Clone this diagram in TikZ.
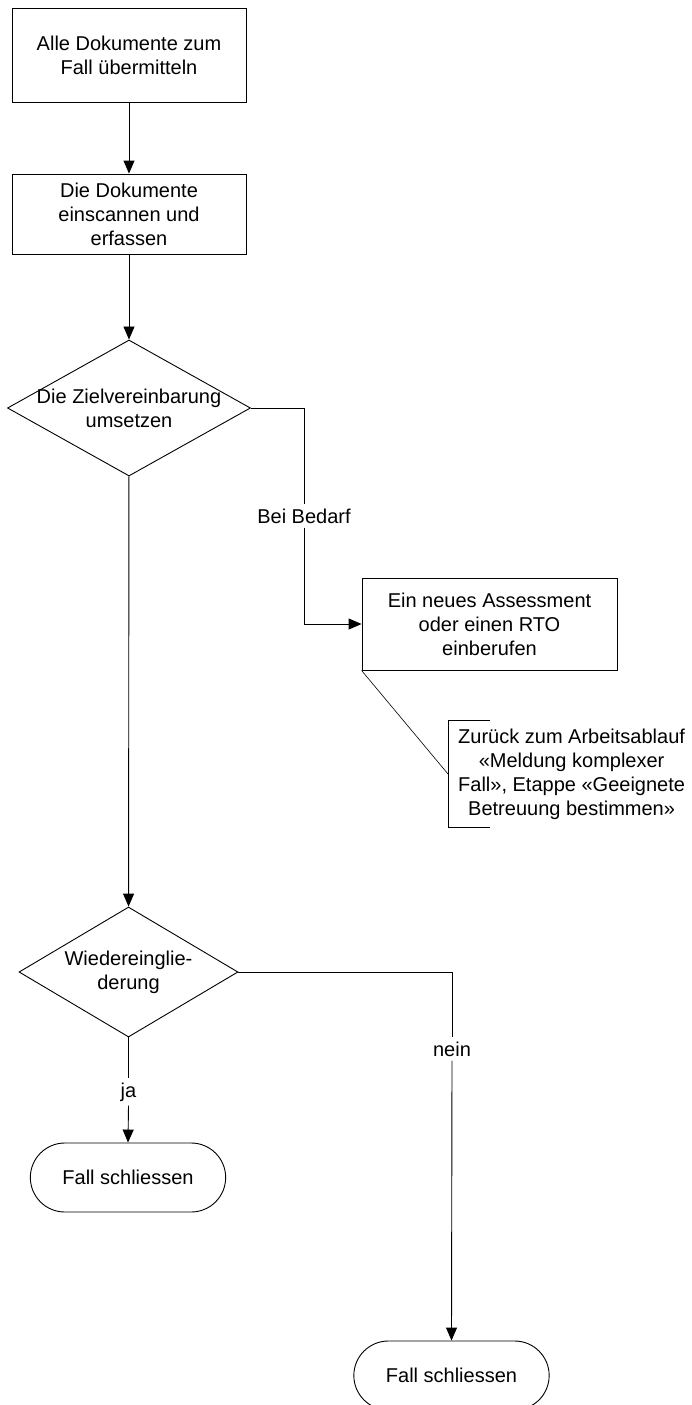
\documentclass[tikz,border=0pt]{standalone}
\usepackage{fontspec}
\setmainfont{Liberation Sans}
\usetikzlibrary{positioning,arrows.meta,shapes.geometric,shapes.misc}

\begin{document}
\begin{tikzpicture}[
  x=10pt, y=-10pt,
  every node/.style={font=\fontsize{20}{24}\selectfont},
  box/.style={draw, line width=0.9pt, align=center, minimum width=234pt, inner sep=2pt},
  decision/.style={draw, line width=0.9pt, diamond, inner sep=0pt},
  terminal/.style={draw, line width=0.9pt, rounded rectangle, minimum width=202pt, minimum height=69pt},
  line/.style={line width=0.9pt},
  arrow/.style={line width=0.9pt, -{Triangle[length=13pt, width=11pt]}},
  lbl/.style={inner xsep=1pt, inner ysep=4pt}
]
  \useasboundingbox (0,0) rectangle (69.1,140.5);

  % Hauptstrang
  \node[box, minimum height=94pt] (send) at (12.9, 5.5) {Alle Dokumente zum\\Fall übermitteln};
  \node[box, minimum height=80pt] (scan) at (12.9, 21.4) {Die Dokumente\\einscannen und\\erfassen};
  \node[decision, minimum width=243pt, minimum height=136pt,
        label={[align=center]center:Die Zielvereinbarung\\umsetzen}] (goal) at (12.9, 40.8) {};
  \node[decision, minimum width=219pt, minimum height=130pt,
        label={[align=center]center:Wiedereinglie-\\derung}] (reint) at (12.85, 97.2) {};
  \node[terminal] (close1) at (12.8, 117.75) {Fall schliessen};

  % Seitenzweig
  \node[box, minimum width=255pt, minimum height=92pt] (rto) at (48.95, 62.4) {Ein neues Assessment\\oder einen RTO\\einberufen};
  \node[align=center, anchor=west, minimum height=106pt, inner xsep=10pt] (back) at (44.8, 77.4)
    {Zurück zum Arbeitsablauf\\«Meldung komplexer\\Fall», Etappe «Geeignete\\Betreuung bestimmen»};
  \node[terminal] (close2) at (45.15, 137.55) {Fall schliessen};

  % Beschriftungen der Kanten
  \node[lbl] (bedarf) at (30.4, 51.6) {Bei Bedarf};
  \node[lbl] (ja) at (12.85, 109.2) {ja};
  \node[lbl] (nein) at (45.2, 104.9) {nein};

  % Verbindungen
  \draw[arrow] (send) -- (scan);
  \draw[arrow] (scan) -- (goal);
  \draw[arrow] (goal) -- (reint);
  \draw[line] (goal.east) -| (bedarf.north);
  \draw[arrow] (bedarf.south) |- (rto.west);
  \draw[line] (reint.south) -- (ja.north);
  \draw[arrow] (ja.south) -- (close1.north);
  \draw[line] (reint.east) -| (nein.north);
  \draw[arrow] (nein.south) -- (close2.north);

  % Anmerkung
  \draw[line width=0.6pt] (rto.south west) -- (back.west);
  \draw[line] ([xshift=42pt]back.north west) -- (back.north west) -- (back.south west) -- ++(4.2,0);
\end{tikzpicture}
\end{document}
